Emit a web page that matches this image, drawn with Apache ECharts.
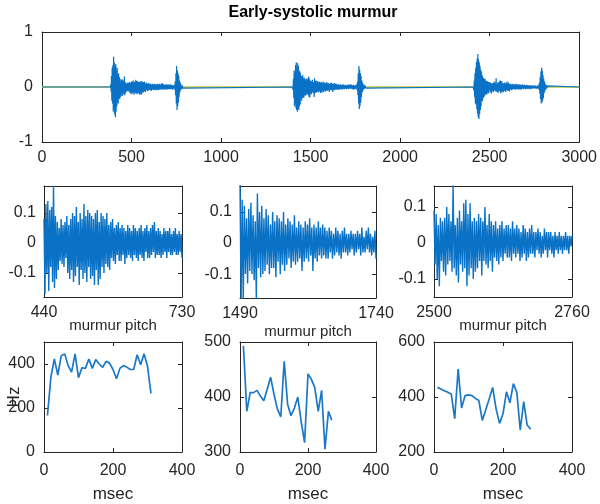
<!DOCTYPE html>
<html><head><meta charset="utf-8">
<script src="https://cdn.jsdelivr.net/npm/echarts@6/dist/echarts.min.js"></script>
<style>html,body{margin:0;padding:0;background:#fff}#c{width:600px;height:504px}</style>
</head><body><div id="c"></div>
<script>
// ---------------- DATA ----------------
const SAMPLE_MS = 2;               // sample spacing of the waveform arrays (ms)
const chartTitle = 'Early-systolic murmur';
const pitchTitle = 'murmur pitch';

// quiet (silent) stretches of the phonocardiogram: [ms, amplitude]
const quietPoints = [[0,0],[382,0],[792,0],[1398,0],[1812,0],[2408,0],[2828,0],[3000,0]];

// first heart sound bursts
const s1aStart = 384;
const s1a = [.05,-.08,.20,-.25,.35,-.30,.40,-.45,.55,-.40,
             .45,-.50,.38,-.55,.42,-.45,.30,-.35,.35,-.28,
             .22,-.30,.25,-.20,.18,-.22,.15,-.18];
const s1bStart = 1400;
const s1b = [.03,-.05,.15,-.20,.30,-.35,.25,-.30,.40,-.38,
             .45,-.42,.35,-.45,.43,-.40,.38,-.42,.30,-.35,
             .28,-.32,.25,-.22,.20,-.25,.18,-.20,.22,-.18,
             .15,-.20,.17,-.14,.15,-.16,.12,-.15,.14,-.12,
             .16,-.13,.12,-.15,.14];
const s1cStart = 2410;
const s1c = [.03,-.06,.12,-.18,.25,-.30,.35,-.32,.45,-.40,
             .52,-.48,.60,-.55,.50,-.58,.45,-.50,.38,-.42,
             .32,-.35,.28,-.25,.22,-.26,.18,-.20,.16,-.18,
             .14,-.16,.15,-.12,.12,-.14,.10,-.13,.11,-.09,
             .10,-.12,.08,-.10,.09];

// murmur segments (also shown zoomed in the middle row)
const murmur1Start = 440;
const murmur1 = [.08,-.17,.13,-.10,.14,-.16,.11,-.08,.12,-.13,
                 .19,-.15,.09,-.12,.07,-.09,.05,-.06,.08,-.07,
                 .06,-.08,.07,-.05,.09,-.10,.06,-.12,.08,-.09,
                 .10,-.13,.09,-.11,.12,-.08,.07,-.14,.10,-.09,
                 .08,-.12,.13,-.10,.09,-.13,.11,-.08,.10,-.12,
                 .09,-.11,.08,-.14,.10,-.09,.11,-.14,.07,-.12,
                 .10,-.08,.09,-.10,.08,-.07,.10,-.08,.06,-.09,
                 .07,-.05,.08,-.06,.05,-.07,.06,-.04,.07,-.06,
                 .05,-.06,.06,-.04,.05,-.07,.04,-.05,.06,-.04,
                 .05,-.05,.04,-.06,.06,-.04,.05,-.05,.04,-.06,
                 .05,-.04,.06,-.05,.04,-.06,.05,-.03,.06,-.05,
                 .04,-.05,.05,-.04,.06,-.03,.07,-.05,.04,-.04,
                 .05,-.04,.04,-.05,.03,-.04,.05,-.03,.04,-.05,
                 .04,-.03,.05,-.04,.03,-.04,.04,-.03,.05,-.04,
                 .03,-.04,.04,-.03,.03,-.05];
const murmur2Start = 1490;
const murmur2 = [.19,-.18,.14,-.19,.12,-.10,.08,-.13,.11,-.09,
                 .13,-.10,.09,-.12,.07,-.18,.16,-.08,.10,-.11,
                 .12,-.10,.08,-.09,.11,-.07,.09,-.10,.06,-.08,
                 .10,-.08,.07,-.11,.09,-.06,.08,-.10,.07,-.07,
                 .10,-.09,.06,-.07,.08,-.05,.07,-.08,.06,-.06,
                 .09,-.07,.05,-.06,.07,-.05,.06,-.09,.05,-.06,
                 .07,-.05,.06,-.06,.08,-.04,.05,-.09,.06,-.05,
                 .05,-.06,.07,-.04,.05,-.05,.06,-.04,.05,-.05,
                 .04,-.05,.05,-.03,.04,-.05,.03,-.04,.05,-.03,
                 .04,-.04,.03,-.05,.04,-.03,.05,-.03,.03,-.04,
                 .03,-.03,.04,-.02,.03,-.04,.03,-.03,.04,-.02,
                 .03,-.04,.05,-.03,.02,-.03,.04,-.02,.05,-.03,
                 .03,-.04,.02,-.03,.04,-.05];
const murmur3Start = 2500;
const murmur3 = [.09,-.06,.08,-.10,.05,-.12,.07,-.05,.06,-.08,
                 .07,-.09,.10,-.06,.08,-.05,.06,-.08,.16,-.07,
                 .05,-.09,.07,-.11,.09,-.06,.06,-.08,.11,-.07,
                 .12,-.12,.08,-.09,.11,-.07,.06,-.10,.07,-.08,
                 .06,-.07,.08,-.05,.07,-.09,.06,-.05,.10,-.06,
                 .05,-.07,.08,-.05,.06,-.08,.05,-.04,.06,-.05,
                 .04,-.06,.05,-.04,.06,-.05,.04,-.03,.05,-.04,
                 .05,-.04,.04,-.05,.06,-.03,.04,-.04,.05,-.03,
                 .04,-.05,.03,-.04,.05,-.03,.04,-.05,.03,-.04,
                 .04,-.03,.05,-.03,.03,-.04,.03,-.02,.04,-.03,
                 .03,-.04,.02,-.03,.04,-.02,.03,-.04,.03,-.02,
                 .03,-.03,.02,-.04,.03,-.02,.02,-.03,.03,-.02,
                 .02,-.03,.02,-.02,.03,-.02,.02,-.03,.02,-.01,
                 .02];

// second heart sound bursts
const s2aStart = 732;
const s2a = [.02,-.03,.03,-.02,.04,-.05,.10,-.15,.25,-.30,
             .38,-.42,.30,-.35,.25,-.28,.20,-.18,.12,-.10,
             .08,-.06,.05,-.04,.03,-.03,.02,-.02,.01,-.01];
const s2bStart = 1742;
const s2b = [.03,-.03,.02,-.04,.03,-.02,.04,-.03,.05,-.06,
             .10,-.15,.25,-.30,.38,-.40,.32,-.35,.25,-.28,
             .20,-.18,.12,-.10,.08,-.07,.05,-.04,.04,-.03,
             .03,-.02,.02,-.02,.01];
const s2cStart = 2762;
const s2c = [.02,-.03,.02,-.02,.03,-.03,.04,-.05,.08,-.12,
             .18,-.22,.28,-.30,.35,-.28,.30,-.25,.22,-.20,
             .15,-.12,.10,-.08,.06,-.05,.04,-.03,.03,-.02,
             .02,-.01,.01];

// murmur pitch tracks
const pitchT1  = [10,20,30,40,50,60,70,80,90,100,110,120,130,140,150,160,170,180,190,200,210,220,230,240,250,260,270,280,290,300,310];
const pitchHz1 = [166,340,423,350,437,446,393,363,446,338,383,380,423,380,420,400,385,412,404,375,333,380,393,386,375,375,442,397,446,390,266];
const pitchT2  = [10,20,30,40,50,60,70,80,90,100,110,120,130,140,150,160,170,180,190,200,210,220,230,240,250,260,270];
const pitchHz2 = [493,374,408,408,412,402,393,414,436,405,378,364,465,387,366,380,400,355,317,442,432,417,374,412,305,374,358];
const pitchT3  = [10,20,30,40,50,60,70,80,90,100,110,120,130,140,150,160,170,180,190,200,210,220,230,240,250,260,270,280];
const pitchHz3 = [435,429,423,417,411,321,502,360,405,408,405,395,387,315,354,393,435,357,304,339,419,379,449,417,280,383,298,283];

// axis ranges and tick labels
const topX = {min:0, max:3000, ticks:[0,500,1000,1500,2000,2500,3000]};
const topY = {min:-1, max:1, ticks:[-1,0,1]};
const zoomX = [{min:440,max:730,ticks:[440,730]},{min:1490,max:1740,ticks:[1490,1740]},{min:2500,max:2760,ticks:[2500,2760]}];
const zoomY = [{min:-0.18,max:0.19,ticks:[-0.1,0,0.1]},{min:-0.177,max:0.184,ticks:[-0.1,0,0.1]},{min:-0.15,max:0.158,ticks:[-0.1,0,0.1]}];
const pitchX = {min:0, max:400, ticks:[0,200,400]};
const pitchY = [{min:0,max:500,ticks:[0,200,400]},{min:300,max:500,ticks:[300,400,500]},{min:200,max:600,ticks:[200,400,600]}];
const xName = 'msec', yName = 'Hz';

// ---------------- BUILD ----------------
const FONT = '"Liberation Sans", Arial, Helvetica, sans-serif';
const INK = '#262626';
const BLUE = '#0a72c6';
const PITCH_BLUE = '#1b78c8';

function pairs(start, values){ return values.map((v,i)=>[start + i*SAMPLE_MS, v]); }
function zip(xs, ys){ return xs.map((x,i)=>[x, ys[i]]); }

const grids = [
  {left:42, top:32, width:543, height:110},
  {left:44, top:186, width:138, height:111},
  {left:240, top:186, width:136, height:112},
  {left:434, top:186, width:138, height:111},
  {left:44, top:342, width:138, height:112},
  {left:240, top:342, width:136, height:112},
  {left:434, top:342, width:138, height:112}
];

const xAxes = [], yAxes = [];
function addAxes(gi, xs, ys, o){
  o = o || {};
  const base = (pos, spec, show, margin) => ({
    type:'value', gridIndex:gi, position:pos, min:spec.min, max:spec.max,
    axisLine:{show:true, onZero:false, lineStyle:{color:INK, width:1}},
    axisTick:{show:true, inside:true, length:4, customValues:spec.ticks, lineStyle:{color:INK, width:1}},
    axisLabel:{show:show, customValues:spec.ticks, margin:margin, color:INK, fontSize:16, fontFamily:FONT,
               formatter:(v)=>String(v)},
    splitLine:{show:false}
  });
  const xb = base('bottom', xs, true, o.xMargin);
  if (o.xName){ Object.assign(xb, {name:o.xName, nameLocation:'middle', nameGap:o.xNameGap, nameMoveOverlap:false,
      nameTextStyle:{color:INK, fontSize:17, fontFamily:FONT}}); }
  xAxes.push(xb);
  xAxes.push(base('top', xs, false, 0));
  const yl = base('left', ys, true, o.yMargin);
  if (o.yName){ Object.assign(yl, {name:o.yName, nameLocation:'middle', nameRotate:90, nameGap:o.yNameGap, nameMoveOverlap:false,
      nameTextStyle:{color:INK, fontSize:17, fontFamily:FONT}}); }
  yAxes.push(yl);
  yAxes.push(base('right', ys, false, 0));
}

addAxes(0, topX, topY, {xMargin:8, yMargin:9});
for (let i=0;i<3;i++) addAxes(1+i, zoomX[i], zoomY[i], {xMargin:8, yMargin:8});
for (let i=0;i<3;i++) addAxes(4+i, pitchX, pitchY[i], {xMargin:11, yMargin:9, xName:xName, xNameGap:34, yName: i===0?yName:null, yNameGap:21});

const topWave = quietPoints
  .concat(pairs(s1aStart,s1a), pairs(murmur1Start,murmur1), pairs(s2aStart,s2a))
  .concat(pairs(s1bStart,s1b), pairs(murmur2Start,murmur2), pairs(s2bStart,s2b))
  .concat(pairs(s1cStart,s1c), pairs(murmur3Start,murmur3), pairs(s2cStart,s2c))
  .sort((a,b)=>a[0]-b[0]);

const lineS = (gi, data, color, width) => ({
  type:'line', xAxisIndex:2*gi, yAxisIndex:2*gi, data:data, showSymbol:false, symbol:'none',
  lineStyle:{color:color, width:width}, itemStyle:{color:color}, clip:true, animation:false, silent:true
});

const series = [
  lineS(0, [[topX.min,0],[topX.max,0]], '#cfd36a', 2),
  lineS(0, topWave, BLUE, 1.2),
  lineS(1, pairs(murmur1Start, murmur1), BLUE, 1.4),
  lineS(2, pairs(murmur2Start, murmur2), BLUE, 1.4),
  lineS(3, pairs(murmur3Start, murmur3), BLUE, 1.4),
  lineS(4, zip(pitchT1, pitchHz1), PITCH_BLUE, 1.7),
  lineS(5, zip(pitchT2, pitchHz2), PITCH_BLUE, 1.7),
  lineS(6, zip(pitchT3, pitchHz3), PITCH_BLUE, 1.7)
];

const textG = (x, y, t, size, weight) => ({type:'text', x:x, y:y, silent:true,
  style:{text:t, fill:weight==='bold'?'#000':INK, font: weight+' '+size+'px '+FONT, textAlign:'center', textVerticalAlign:'middle'}});

const chart = echarts.init(document.getElementById('c'), null, {renderer:'canvas'});
chart.setOption({
  animation:false,
  backgroundColor:'#fff',
  grid: grids,
  xAxis: xAxes,
  yAxis: yAxes,
  series: series,
  graphic: [
    textG(313, 13, chartTitle, 16, 'bold'),
    textG(113, 326, pitchTitle, 15, 'normal'),
    textG(308, 332, pitchTitle, 15, 'normal'),
    textG(503, 326, pitchTitle, 15, 'normal')
  ]
});
</script></body></html>
